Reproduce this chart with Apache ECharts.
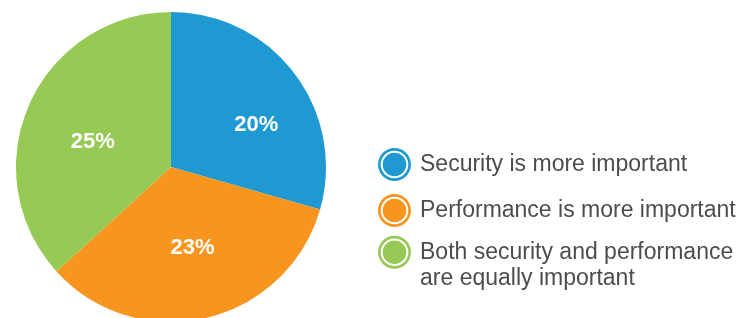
<!DOCTYPE html>
<html>
<head>
<meta charset="utf-8">
<script src="https://cdn.jsdelivr.net/npm/echarts@6/dist/echarts.min.js"></script>
<style>
html,body{margin:0;padding:0;background:#fff;}
#chart{width:755px;height:318px;}
</style>
</head>
<body>
<div id="chart"></div>
<script>
const categories = [
  'Security is more important',
  'Performance is more important',
  'Both security and performance are equally important'
];
const values = [20, 23, 25];
const valueLabels = ['20%', '23%', '25%'];
const colors = ['#1f99d1', '#f7951f', '#97c955'];
const labelOffsets = [[21, 6.5], [3, 2.5], [-4.5, 7.5]];

const ringIcon = 'path://' +
  'M0,-16.5A16.5,16.5 0 1 1 0,16.5A16.5,16.5 0 1 1 0,-16.5Z' +
  'M0,-13.8A13.8,13.8 0 1 0 0,13.8A13.8,13.8 0 1 0 0,-13.8Z' +
  'M0,-11.8A11.8,11.8 0 1 1 0,11.8A11.8,11.8 0 1 1 0,-11.8Z';

const chart = echarts.init(document.getElementById('chart'), null, {renderer: 'canvas'});

const legendText = {
  fontFamily: '"Liberation Sans", Arial, sans-serif',
  fontSize: 23,
  color: '#4d4d4d',
  lineHeight: 26.5,
  padding: [0, 0, 0, 4]
};

function makeLegend(i, top) {
  return {
    orient: 'vertical',
    left: 378,
    top: top,
    padding: 0,
    itemWidth: 33,
    itemHeight: 33,
    itemGap: 0,
    icon: ringIcon,
    selectedMode: false,
    data: [categories[i]],
    formatter: function (name) {
      if (name === categories[2]) return '\nBoth security and performance\nare equally important';
      return name;
    },
    textStyle: legendText
  };
}

chart.setOption({
  animation: false,
  color: colors,
  legend: [
    makeLegend(0, 148),
    makeLegend(1, 194),
    makeLegend(2, 212.5)
  ],
  series: [{
    type: 'pie',
    center: [171, 167],
    radius: 155,
    startAngle: 90,
    clockwise: true,
    silent: true,
    label: {
      position: 'inside',
      color: '#fff',
      fontFamily: '"Liberation Sans", Arial, sans-serif',
      fontWeight: 'bold',
      fontSize: 22
    },
    labelLine: {show: false},
    data: categories.map(function (c, i) {
      return {
        name: c,
        value: values[i],
        label: {formatter: valueLabels[i], offset: labelOffsets[i]}
      };
    })
  }]
});
</script>
</body>
</html>
